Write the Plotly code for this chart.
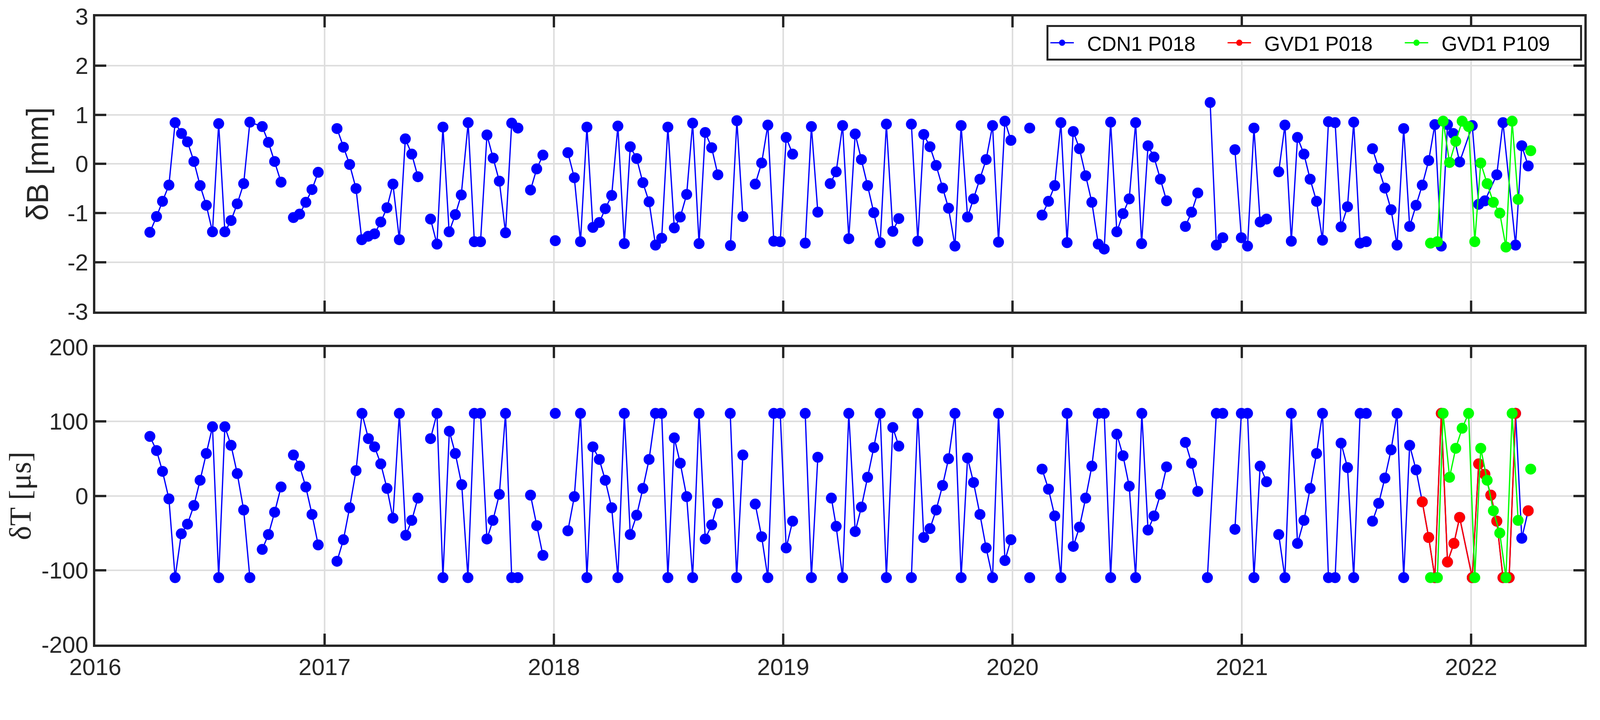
import plotly.graph_objects as go

N = None
# ---- top panel (dB, mm) ----
cdn_b_t = [2016.238,2016.267,2016.293,2016.321,2016.348,2016.376,2016.402,2016.430,2016.457,2016.484,2016.511,2016.538,2016.565,2016.592,2016.619,2016.647,2016.674,2016.728,2016.755,2016.782,2016.810,N,
 2016.864,2016.891,2016.918,2016.945,2016.972,N,
 2017.054,2017.082,2017.109,2017.137,2017.162,2017.190,2017.218,2017.245,2017.272,2017.298,2017.326,2017.352,2017.380,2017.407,N,
 2017.462,2017.490,2017.516,2017.543,2017.570,2017.596,2017.626,2017.653,2017.680,2017.708,2017.735,2017.762,2017.789,2017.816,2017.843,N,
 2017.898,2017.925,2017.952,N,2018.006,N,
 2018.061,2018.089,2018.116,2018.144,2018.170,2018.198,2018.224,2018.252,2018.279,2018.307,2018.333,2018.361,2018.388,2018.415,2018.443,2018.470,2018.497,2018.525,2018.551,2018.579,2018.605,2018.633,2018.660,2018.688,2018.715,N,
 2018.770,2018.798,2018.824,N,
 2018.878,2018.906,2018.933,2018.959,2018.987,2019.013,2019.041,N,
 2019.096,2019.123,2019.151,N,
 2019.205,2019.231,2019.259,2019.286,2019.314,2019.341,2019.368,2019.395,2019.423,2019.450,2019.478,2019.504,N,
 2019.559,2019.587,2019.613,2019.640,2019.667,2019.695,2019.721,2019.749,2019.776,2019.804,2019.830,2019.858,2019.885,2019.913,2019.939,2019.967,2019.993,N,
 2020.075,N,
 2020.129,2020.157,2020.184,2020.211,2020.238,2020.265,2020.292,2020.319,2020.346,2020.374,2020.400,2020.428,2020.455,2020.482,2020.509,2020.537,2020.563,2020.591,2020.617,2020.645,2020.672,N,
 2020.754,2020.781,2020.808,N,
 2020.862,2020.889,2020.917,N,
 2020.970,2020.998,2021.025,2021.053,2021.080,2021.108,N,
 2021.161,2021.188,2021.216,2021.243,2021.271,2021.298,2021.326,2021.352,2021.378,2021.407,2021.433,2021.461,2021.488,2021.516,2021.543,N,
 2021.570,2021.597,2021.624,2021.651,2021.677,2021.706,2021.732,2021.760,2021.787,2021.815,2021.842,2021.870,2021.897,2021.922,2021.950,2022.005,2022.033,2022.060,2022.112,2022.139,2022.194,2022.221,2022.249]
cdn_b = [-1.39,-1.07,-0.76,-0.43,0.84,0.62,0.45,0.05,-0.44,-0.84,-1.38,0.82,-1.38,-1.15,-0.81,-0.40,0.85,0.76,0.44,0.05,-0.37,N,
 -1.09,-1.02,-0.78,-0.52,-0.17,N,
 0.72,0.34,-0.01,-0.50,-1.54,-1.47,-1.42,-1.18,-0.89,-0.41,-1.54,0.51,0.20,-0.26,N,
 -1.12,-1.63,0.75,-1.38,-1.03,-0.63,0.84,-1.58,-1.58,0.59,0.12,-0.35,-1.40,0.83,0.73,N,
 -0.53,-0.10,0.18,N,-1.56,N,
 0.23,-0.28,-1.58,0.75,-1.29,-1.19,-0.91,-0.64,0.77,-1.62,0.35,0.11,-0.38,-0.77,-1.65,-1.51,0.75,-1.30,-1.08,-0.62,0.83,-1.62,0.64,0.33,-0.22,N,
 -1.66,0.88,-1.07,N,
 -0.41,0.02,0.79,-1.57,-1.58,0.54,0.20,N,
 -1.61,0.76,-0.98,N,
 -0.40,-0.16,0.78,-1.52,0.61,0.09,-0.44,-0.99,-1.60,0.81,-1.37,-1.11,N,
 0.81,-1.57,0.60,0.35,-0.03,-0.49,-0.90,-1.67,0.78,-1.08,-0.71,-0.31,0.09,0.78,-1.59,0.87,0.48,N,
 0.73,N,
 -1.04,-0.76,-0.44,0.84,-1.60,0.66,0.31,-0.24,-0.78,-1.63,-1.73,0.85,-1.38,-1.01,-0.71,0.84,-1.62,0.37,0.14,-0.31,-0.75,N,
 -1.27,-0.98,-0.59,N,
 1.25,-1.65,-1.50,N,
 0.29,-1.50,-1.67,0.73,-1.18,-1.12,N,
 -0.16,0.79,-1.57,0.54,0.20,-0.31,-0.76,-1.55,0.86,0.84,-1.28,-0.87,0.85,-1.61,-1.58,N,
 0.31,-0.09,-0.49,-0.93,-1.65,0.72,-1.27,-0.84,-0.43,0.07,0.80,-1.67,0.80,0.62,0.04,0.78,-0.82,-0.75,-0.22,0.84,-1.65,0.37,-0.04]

gvd18_t = [2021.787,2021.815,2021.842,2021.870,2021.897,2021.925,2021.952,2022.005,2022.033,2022.060,2022.086,2022.112,2022.139,2022.166,2022.194,N,2022.249]
gvd18_b = [0.61,1.01,0.75,-1.61,0.17,-0.27,-0.99,0.73,0.18,0.31,0.57,0.76,0.73,0.69,-1.58,N,-1.11]

gvd109_t = [2021.823,2021.853,2021.878,2021.906,2021.933,2021.961,2021.989,2022.016,2022.042,2022.070,2022.097,2022.125,2022.152,2022.179,2022.205,N,2022.260]
gvd109_b = [-1.61,-1.58,0.87,0.03,0.46,0.87,0.76,-1.58,0.02,-0.40,-0.78,-1.00,-1.69,0.87,-0.72,N,0.27]

# ---- bottom panel (dT, us) ----
cdn_t_t = [2016.238,2016.267,2016.293,2016.321,2016.348,2016.375,2016.402,2016.430,2016.457,2016.484,2016.511,2016.538,2016.565,2016.592,2016.619,2016.647,2016.674,N,
 2016.728,2016.755,2016.782,2016.810,N,
 2016.864,2016.891,2016.918,2016.945,2016.972,N,
 2017.054,2017.082,2017.109,2017.137,2017.163,2017.191,2017.218,2017.245,2017.272,2017.298,2017.326,2017.354,2017.380,2017.407,N,
 2017.462,2017.490,2017.516,2017.544,2017.570,2017.598,2017.625,2017.653,2017.680,2017.708,2017.734,2017.762,2017.789,2017.816,2017.843,N,
 2017.898,2017.925,2017.952,N,2018.006,N,
 2018.061,2018.089,2018.116,2018.144,2018.170,2018.198,2018.224,2018.252,2018.279,2018.307,2018.333,2018.361,2018.388,2018.415,2018.443,2018.470,2018.497,2018.525,2018.551,2018.579,2018.605,2018.633,2018.660,2018.688,2018.714,N,
 2018.769,2018.797,2018.824,N,
 2018.878,2018.906,2018.933,2018.959,2018.987,2019.013,2019.041,N,
 2019.096,2019.123,2019.151,N,
 2019.210,2019.231,2019.259,2019.286,2019.314,2019.341,2019.368,2019.395,2019.423,2019.450,2019.478,2019.504,N,
 2019.559,2019.587,2019.613,2019.640,2019.667,2019.695,2019.721,2019.749,2019.776,2019.804,2019.830,2019.858,2019.885,2019.913,2019.939,2019.967,2019.993,N,
 2020.075,N,
 2020.129,2020.157,2020.184,2020.211,2020.238,2020.265,2020.292,2020.319,2020.346,2020.374,2020.400,2020.428,2020.455,2020.482,2020.509,2020.537,2020.564,2020.591,2020.617,2020.645,2020.672,N,
 2020.754,2020.781,2020.808,N,
 2020.850,2020.889,2020.917,N,
 2020.970,2020.998,2021.025,2021.053,2021.080,2021.108,N,
 2021.161,2021.188,2021.216,2021.243,2021.271,2021.298,2021.326,2021.352,2021.378,2021.407,2021.433,2021.461,2021.488,2021.516,2021.543,N,
 2021.570,2021.597,2021.624,2021.651,2021.677,2021.706,2021.732,2021.760,2021.787,2021.815,2021.842,2021.870,2021.897,2021.925,2021.950,2022.005,2022.033,2022.060,2022.086,2022.112,2022.139,2022.166,2022.194,2022.221,2022.249]
cdn_t = [80,61,33,-4,-110,-51,-38,-13,21,57,93,-110,93,68,30,-19,-110,N,
 -72,-52,-22,12,N,
 55,40,12,-25,-66,N,
 -88,-59,-16,34,111,77,66,43,10,-30,111,-53,-33,-3,N,
 77,111,-110,87,57,15,-110,111,111,-58,-33,2,111,-110,-110,N,
 1,-40,-80,N,111,N,
 -47,-1,111,-110,66,49,21,-16,-110,111,-52,-26,10,49,111,111,-110,78,44,-1,-110,111,-58,-39,-10,N,
 111,-110,55,N,
 -11,-55,-110,111,111,-70,-34,N,
 111,-110,52,N,
 -3,-41,-110,111,-48,-15,25,65,111,-110,92,67,N,
 -110,111,-56,-44,-19,14,50,111,-110,51,18,-25,-70,-110,111,-87,-59,N,
 -110,N,
 36,9,-27,-110,111,-68,-42,-3,40,111,111,-110,83,54,13,-110,111,-46,-27,2,39,N,
 72,44,6,N,
 -110,111,111,N,
 -45,111,111,-110,40,19,N,
 -52,-110,111,-64,-33,10,57,111,-110,-110,71,38,-110,111,111,N,
 -34,-10,24,62,111,-110,68,35,-8,-56,-110,111,-89,-64,-29,-110,43,29,1,-34,-110,-110,111,-57,-20]

gvd18_tt = [2021.787,2021.815,2021.842,2021.870,2021.897,2021.925,2021.950,2022.005,2022.033,2022.060,2022.086,2022.112,2022.139,2022.166,2022.194,N,2022.249]
gvd18_t = [-8,-56,-110,111,-89,-64,-29,-110,43,29,1,-34,-110,-110,111,N,-20]

gvd109_tt = [2021.823,2021.853,2021.878,2021.906,2021.933,2021.961,2021.989,2022.016,2022.042,2022.070,2022.097,2022.125,2022.152,2022.179,2022.205,N,2022.260]
gvd109_tv = [-110,-110,111,25,64,91,111,-110,64,21,-20,-50,-110,111,-33,N,36]

years = list(range(2016, 2023))
yb_ticks = [-3, -2, -1, 0, 1, 2, 3]
yt_ticks = [-200, -100, 0, 100, 200]

names = ["CDN1 P018", "GVD1 P018", "GVD1 P109"]
colors = ["#0000ff", "#ff0000", "#00ff00"]

fig = go.Figure()
def add(x, y, i, axis, show):
    fig.add_trace(go.Scatter(x=x, y=y, mode="lines+markers", name="  " + names[i] + "     ",
        line=dict(color=colors[i], width=3.3), marker=dict(color=colors[i], size=28),
        xaxis="x" if axis == 1 else "x2", yaxis="y" if axis == 1 else "y2",
        showlegend=show, connectgaps=False))

add(cdn_b_t, cdn_b, 0, 1, True)
add(gvd18_t, gvd18_b, 1, 1, True)
add(gvd109_t, gvd109_b, 2, 1, True)
add(cdn_t_t, cdn_t, 0, 2, False)
add(gvd18_tt, gvd18_t, 1, 2, False)
add(gvd109_tt, gvd109_tv, 2, 2, False)

font = dict(family="Liberation Sans, Arial", size=60, color="#262626")
ax = dict(showline=True, mirror="ticks", linecolor="#262626", linewidth=6,
          ticks="inside", ticklen=28, tickwidth=6, tickcolor="#262626", automargin=False,
          showgrid=True, gridcolor="#dedede", gridwidth=4, zeroline=False, tickfont=font)
W, HT = 4094, 1742
L, R, T, B = 236, 46, 34, 101
H = HT - T - B
fig.update_layout(
    width=W, height=HT, paper_bgcolor="white", plot_bgcolor="white",
    margin=dict(l=L, r=R, t=T, b=B, autoexpand=False), font=font,
    xaxis=dict(ax, domain=[0, 1], range=[2016, 2022.494], tickvals=years, showticklabels=False, anchor="y"),
    yaxis=dict(ax, domain=[0.5302, 1], range=[-3.0005, 3.0005], tickvals=yb_ticks,
               ticktext=[str(v) for v in yb_ticks], anchor="x",
               title=dict(text="δB [mm]", font=dict(family="Liberation Sans, Arial", size=78, color="#262626"), standoff=25)),
    xaxis2=dict(ax, domain=[0, 1], range=[2016, 2022.494], tickvals=years,
                ticktext=[str(v) for v in years], anchor="y2"),
    yaxis2=dict(ax, domain=[0, 0.4734], range=[-200.05, 200.05], tickvals=yt_ticks,
                ticktext=[str(v) for v in yt_ticks], anchor="x2",
                title=dict(text="δT [μs]", font=dict(family="Liberation Serif, Times New Roman", size=78, color="#262626"), standoff=25)),
    legend=dict(orientation="h", x=1-6/(W-L-R), xanchor="right", y=1-22/H, yanchor="top",
                bordercolor="#262626", borderwidth=5, bgcolor="white",
                font=dict(family="Liberation Sans, Arial", size=52, color="black"),
                itemwidth=60, tracegroupgap=0),
)
fig.write_html("out.html")
